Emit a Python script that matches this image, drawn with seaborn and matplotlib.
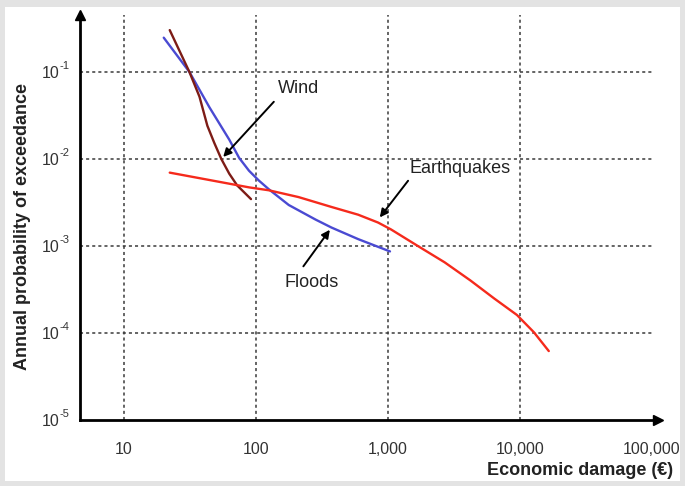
import matplotlib
matplotlib.use("Agg")
import matplotlib.pyplot as plt
import seaborn as sns
import pandas as pd
from matplotlib.patches import Rectangle
from matplotlib.ticker import FixedLocator, FixedFormatter

# values (damage in EUR, annual probability)
floods_x = [20.0, 31.3, 44.4, 62.7, 74.5, 88.5, 105, 125, 177, 283, 373, 594, 1035]
floods_y = [0.248, 0.1, 0.0392, 0.0167, 0.0103, 0.00733, 0.00566, 0.00449,
            0.00296, 0.00201, 0.00163, 0.0012, 0.000866]

wind_x = [22.2, 31.3, 37.3, 42.8, 48.3, 54.6, 62.7, 71.9, 91.6]
wind_y = [0.303, 0.1, 0.052, 0.0241, 0.0153, 0.01, 0.00678, 0.00498, 0.00346]

quake_x = [22.2, 88.5, 125, 210, 373, 594, 841, 1054, 1683, 2686, 4207, 6383,
           9484, 12740, 16520]
quake_y = [0.00697, 0.00472, 0.00437, 0.00365, 0.00281, 0.00229, 0.00186, 0.00155,
           0.001, 0.000649, 0.000402, 0.000249, 0.000161, 0.000102, 0.000062]

x_ticks = [10, 100, 1000, 10000, 100000]
x_labels = ["10", "100", "1,000", "10,000", "100,000"]
y_ticks = [1e-5, 1e-4, 1e-3, 1e-2, 1e-1]
y_exponents = ["-5", "-4", "-3", "-2", "-1"]

sns.set_style("white")
plt.rcParams["font.family"] = ["Liberation Sans", "DejaVu Sans"]

fig = plt.figure(figsize=(6.85, 4.86), dpi=100, facecolor="#e3e3e3")
fig.patches.append(Rectangle((5 / 685, 5 / 486), 675 / 685, 474 / 486,
                             transform=fig.transFigure, facecolor="white",
                             edgecolor="none", zorder=-10))
ax = fig.add_axes([80 / 685, 66 / 486, 572 / 685, 405 / 486])
ax.set_facecolor("none")

df = pd.concat([
    pd.DataFrame({"damage": floods_x, "prob": floods_y, "hazard": "Floods"}),
    pd.DataFrame({"damage": wind_x, "prob": wind_y, "hazard": "Wind"}),
    pd.DataFrame({"damage": quake_x, "prob": quake_y, "hazard": "Earthquakes"}),
])
colors = {"Floods": "#4a4ad2", "Wind": "#7d1c16", "Earthquakes": "#f52a1c"}

sns.lineplot(data=df, x="damage", y="prob", hue="hazard", palette=colors,
             linewidth=1.7, legend=False, sort=False, ax=ax, zorder=3)

ax.set_xscale("log")
ax.set_yscale("log")
ax.set_xlim(4.64, 100000)
ax.set_ylim(1e-5, 0.452)
ax.set_xlabel("")

# dashed grid
for xv in x_ticks[:-1]:
    ax.axvline(xv, color="#3a3a3a", lw=1.1, ls=(0, (2, 2)), zorder=1)
for yv in y_ticks[1:]:
    ax.axhline(yv, color="#3a3a3a", lw=1.1, ls=(0, (2, 2)), zorder=1)

ax.xaxis.set_major_locator(FixedLocator(x_ticks))
ax.xaxis.set_major_formatter(FixedFormatter(x_labels))
ax.xaxis.set_minor_locator(FixedLocator([]))
ax.yaxis.set_major_locator(FixedLocator(y_ticks))
ax.yaxis.set_major_formatter(FixedFormatter(["10"] * len(y_ticks)))
ax.yaxis.set_minor_locator(FixedLocator([]))
ax.tick_params(axis="x", length=0, pad=16, labelsize=11.5, labelcolor="#333333")
ax.tick_params(axis="y", length=0, pad=14.5, labelsize=11.5, labelcolor="#333333")

# superscript exponents next to the "10" labels
for yv, ex in zip(y_ticks, y_exponents):
    ax.annotate(ex, xy=(0, yv), xycoords=ax.get_yaxis_transform(),
                xytext=(-14.5, 0.5), textcoords="offset points",
                fontsize=8, color="#333333", ha="left", va="bottom",
                annotation_clip=False)

# axes with arrowheads
for s in ["top", "right"]:
    ax.spines[s].set_visible(False)
for s in ["left", "bottom"]:
    ax.spines[s].set_linewidth(2)
    ax.spines[s].set_color("black")
ax.plot(1.01, 0, ">", color="black", ms=7, transform=ax.transAxes, clip_on=False)
ax.plot(0, 1.0, "^", color="black", ms=7, transform=ax.transAxes, clip_on=False)

ax.set_ylabel("Annual probability of exceedance", fontsize=13, fontweight="bold",
              color="#222222")
ax.yaxis.set_label_coords(-0.086, 0.477)
fig.text(673 / 685, 1 - 470 / 486, "Economic damage (€)", fontsize=13,
         fontweight="bold", ha="right", va="center", color="#222222")

# labels with arrows
arrow = dict(arrowstyle="-|>", color="black", lw=1.4, mutation_scale=12)
ax.annotate("", xy=(54.6, 0.01), xytext=(141, 0.048), arrowprops=arrow, zorder=4)
ax.text(147, 0.065, "Wind", fontsize=13, ha="left", va="center", color="#222222")
ax.annotate("", xy=(841, 0.00201), xytext=(1462, 0.00596), arrowprops=arrow, zorder=4)
ax.text(3540, 0.00773, "Earthquakes", fontsize=13, ha="center", va="center", color="#222222")
ax.annotate("", xy=(373, 0.00163), xytext=(222, 0.00055), arrowprops=arrow, zorder=4)
ax.text(264, 0.000383, "Floods", fontsize=13, ha="center", va="center", color="#222222")

fig.savefig("out.png", dpi=100, facecolor=fig.get_facecolor())
